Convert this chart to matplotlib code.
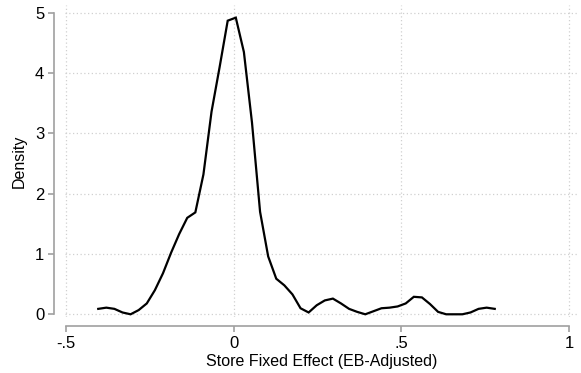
import matplotlib
matplotlib.use("Agg")
import matplotlib.pyplot as plt
import numpy as np

plt.rcParams['font.family'] = ['Liberation Sans', 'DejaVu Sans']

# kernel density estimate evaluated at 50 points
x_start, x_end, n_points = -0.403, 0.778, 50
density = [0.09, 0.11, 0.09, 0.03, 0.00, 0.07, 0.18, 0.40, 0.68, 1.02,
           1.33, 1.60, 1.69, 2.32, 3.36, 4.10, 4.87, 4.92, 4.35, 3.18,
           1.70, 0.96, 0.59, 0.48, 0.33, 0.10, 0.03, 0.15, 0.23, 0.26,
           0.18, 0.09, 0.04, 0.00, 0.05, 0.10, 0.11, 0.13, 0.18, 0.29,
           0.28, 0.17, 0.04, 0.00, 0.00, 0.00, 0.03, 0.09, 0.11, 0.09]
x_ticks = [-0.5, 0, 0.5, 1]
x_tick_labels = ["-.5", "0", ".5", "1"]
y_ticks = [0, 1, 2, 3, 4, 5]
y_tick_labels = ["0", "1", "2", "3", "4", "5"]

xs = np.linspace(x_start, x_end, n_points)

W, H = 581, 373
fig = plt.figure(figsize=(W / 100, H / 100), dpi=100)
left_px, right_px, top_px, bottom_px = 65, 578, 5, 317
ax = fig.add_axes([left_px / W, 1 - bottom_px / H,
                   (right_px - left_px) / W, (bottom_px - top_px) / H])

ax.plot(xs, density, color='black', lw=1.6, solid_joinstyle='miter')

ax.set_xlim(-0.502, 1.026)
ax.set_ylim(-0.045, 5.13)
ax.set_xticks(x_ticks)
ax.set_xticklabels(x_tick_labels)
ax.set_yticks(y_ticks)
ax.set_yticklabels(y_tick_labels)

ax.grid(True, linestyle=(0, (1, 2)), color='#d0d0d0', lw=0.9)
ax.set_axisbelow(True)

for s in ['top', 'right']:
    ax.spines[s].set_visible(False)
ax.spines['left'].set_position(('outward', 8))
ax.spines['bottom'].set_position(('outward', 6.5))
ax.spines['left'].set_bounds(0, 5)
ax.spines['bottom'].set_bounds(-0.5, 1)
for s in ['left', 'bottom']:
    ax.spines[s].set_color('#a0a0a0')
    ax.spines[s].set_linewidth(1.2)

ax.tick_params(axis='both', direction='out', length=4, width=1.2,
               color='#a0a0a0', labelsize=12, labelcolor='black', pad=3)
ax.set_xlabel("Store Fixed Effect (EB-Adjusted)", fontsize=11.5, labelpad=2)
ax.set_ylabel("Density", fontsize=11.5, labelpad=6)

fig.savefig("out.png", dpi=100)
